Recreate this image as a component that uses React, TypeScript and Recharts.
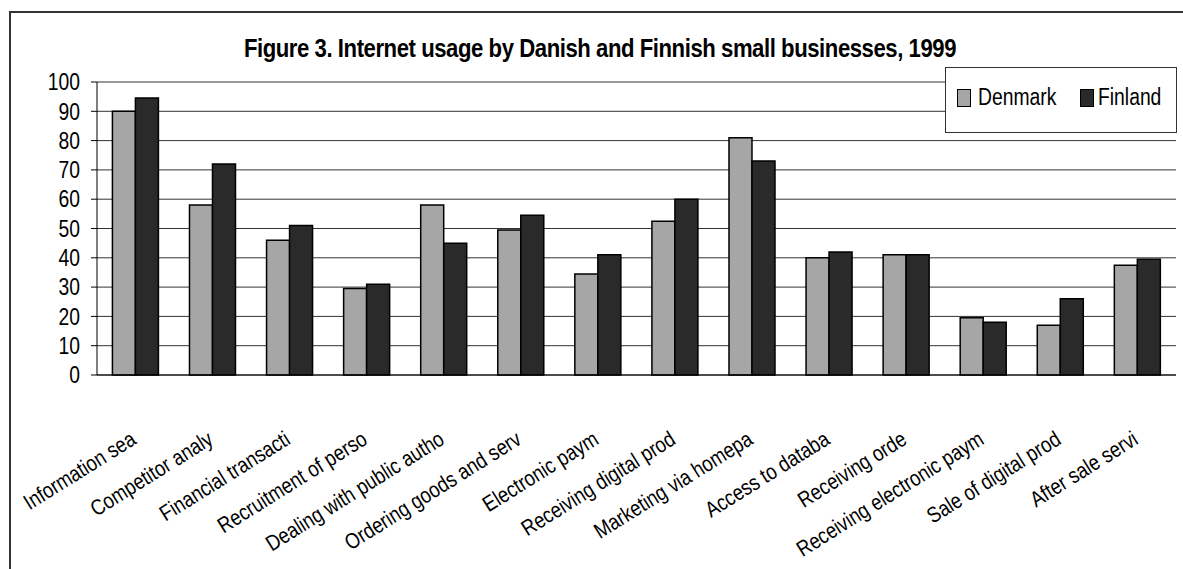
import React from 'react';
import {
    BarChart,
    Bar,
    XAxis,
    YAxis,
    CartesianGrid,
} from 'recharts';

const categories = [
    'Information sea',
    'Competitor analy',
    'Financial transacti',
    'Recruitment of perso',
    'Dealing with public autho',
    'Ordering goods and serv',
    'Electronic paym',
    'Receiving digital prod',
    'Marketing via homepa',
    'Access to databa',
    'Receiving orde',
    'Receiving electronic paym',
    'Sale of digital prod',
    'After sale servi',
];
const denmark = [90, 58, 46, 29.5, 58, 49.5, 34.5, 52.5, 81, 40, 41, 19.5, 17, 37.5];
const finland = [94.5, 72, 51, 31, 45, 54.5, 41, 60, 73, 42, 41, 18, 26, 39.5];
const seriesNames = ['Denmark', 'Finland'];
const yTicks = [0, 10, 20, 30, 40, 50, 60, 70, 80, 90, 100];
const title = 'Figure 3. Internet usage by Danish and Finnish small businesses, 1999';

const data = categories.map((name, i) => ({
    name,
    Denmark: denmark[i],
    Finland: finland[i],
}));

// no narrow font installed, so Liberation Sans gets squeezed horizontally
const FONT = "'Liberation Sans', Arial, sans-serif";
const NARROW = 0.84;
const COLORS = ['#a6a6a6', '#2a2a2a'];

const CategoryTick = (props: any) => {
    const { x, y, payload } = props;
    return (
        <text
            transform={`translate(${x + 2} ${y + 60}) rotate(-32) scale(0.84 1)`}
            textAnchor="end"
            fontFamily={FONT}
            fontSize={22}
            fill="#000"
        >
            {payload.value}
        </text>
    );
};

const ValueTick = (props: any) => {
    const { x, y, payload } = props;
    return (
        <text
            transform={`translate(${x} ${y}) scale(${NARROW} 1)`}
            textAnchor="end"
            dy="0.36em"
            fontFamily={FONT}
            fontSize={23}
            fill="#000"
        >
            {payload.value}
        </text>
    );
};

const legendItems = [
    { swatch: 957, text: 978 },
    { swatch: 1080, text: 1098 },
];

export default function App() {
    return (
        <div style={{ position: 'relative', width: 1183, height: 569, overflow: 'hidden', background: '#fff' }}>
            <style>{'body{margin:0}'}</style>
            <div
                style={{
                    position: 'absolute',
                    left: 9,
                    top: 11,
                    width: 1400,
                    height: 800,
                    border: '2px solid #333',
                }}
            />
            <div
                style={{
                    position: 'absolute',
                    left: 0,
                    top: 33,
                    width: 1200,
                    textAlign: 'center',
                    fontFamily: FONT,
                    fontWeight: 'bold',
                    fontSize: 25,
                    lineHeight: '30px',
                    letterSpacing: -0.5,
                    transform: 'scaleX(0.885)',
                    transformOrigin: '600px 0',
                }}
            >
                {title}
            </div>
            <div style={{ position: 'absolute', left: 0, top: 0 }}>
                <BarChart
                    width={1183}
                    height={569}
                    data={data}
                    margin={{ top: 82, right: 7, bottom: 44, left: 37 }}
                    barCategoryGap="20%"
                    barGap={0}
                >
                    <CartesianGrid vertical={false} stroke="#333" strokeWidth={1} />
                    <XAxis
                        dataKey="name"
                        interval={0}
                        height={150}
                        axisLine={{ stroke: '#000' }}
                        tickLine={false}
                        tick={<CategoryTick />}
                    />
                    <YAxis
                        domain={[0, 100]}
                        ticks={yTicks}
                        interval={0}
                        width={60}
                        axisLine={{ stroke: '#000' }}
                        tickLine={{ stroke: '#000' }}
                        tickSize={6}
                        tickMargin={11}
                        tick={<ValueTick />}
                    />
                    <YAxis
                        yAxisId="right"
                        orientation="right"
                        width={0}
                        domain={[0, 100]}
                        tick={false}
                        tickLine={false}
                        axisLine={{ stroke: '#999' }}
                    />
                    {seriesNames.map((s, i) => (
                        <Bar
                            key={s}
                            dataKey={s}
                            fill={COLORS[i]}
                            stroke="#000"
                            strokeWidth={1.5}
                            isAnimationActive={false}
                        />
                    ))}
                </BarChart>
            </div>
            <div
                style={{
                    position: 'absolute',
                    left: 945,
                    top: 67,
                    width: 232,
                    height: 66,
                    border: '1px solid #333',
                    background: '#fff',
                    boxSizing: 'border-box',
                }}
            >
                {seriesNames.map((s, i) => (
                    <React.Fragment key={s}>
                        <span
                            style={{
                                position: 'absolute',
                                left: legendItems[i].swatch - 946,
                                top: 21,
                                width: 12,
                                height: 16,
                                background: COLORS[i],
                                border: '1px solid #000',
                            }}
                        />
                        <span
                            style={{
                                position: 'absolute',
                                left: legendItems[i].text - 946,
                                top: 16,
                                fontFamily: FONT,
                                fontSize: 23,
                                lineHeight: '26px',
                                whiteSpace: 'nowrap',
                                transform: `scaleX(${NARROW})`,
                                transformOrigin: '0 0',
                            }}
                        >
                            {s}
                        </span>
                    </React.Fragment>
                ))}
            </div>
        </div>
    );
}
